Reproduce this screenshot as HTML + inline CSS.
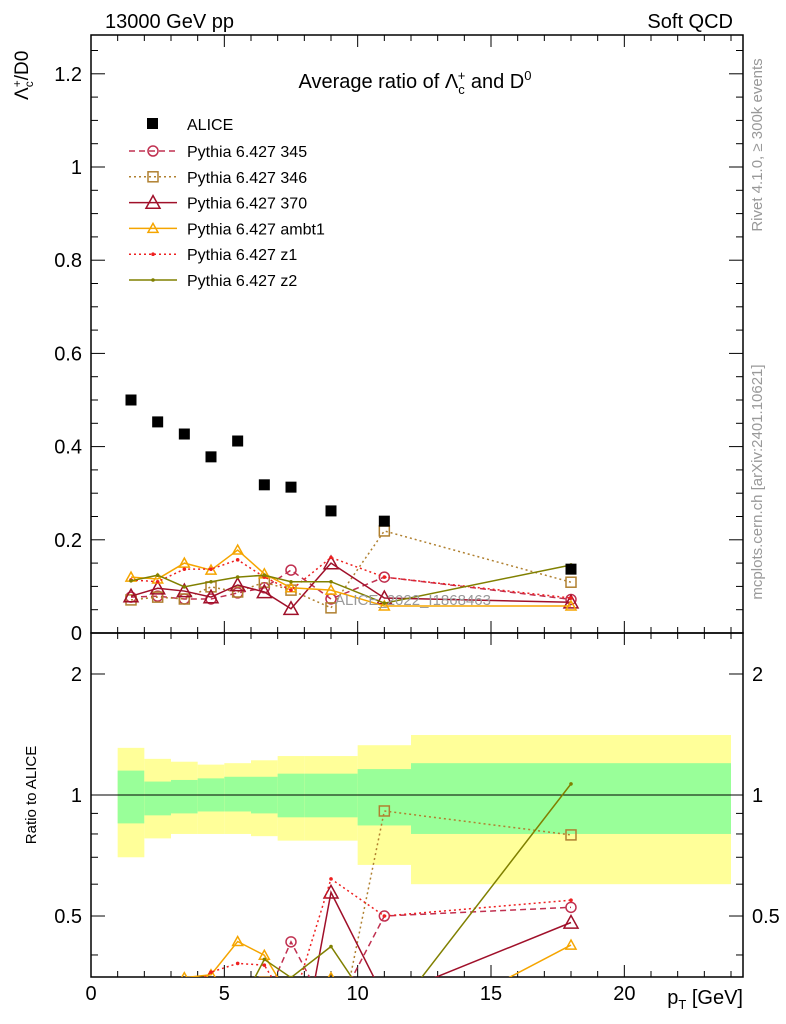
<!DOCTYPE html>
<html><head><meta charset="utf-8"><style>
html,body{margin:0;background:#fff;width:786px;height:1024px;overflow:hidden}
svg{display:block;font-family:"Liberation Sans",sans-serif}
</style></head><body>
<svg id="c" width="786" height="1024" xmlns="http://www.w3.org/2000/svg">
<rect x="0" y="0" width="786" height="1024" fill="#fff"/>
<g id="bands"></g>
<g id="grid"></g>
<g id="marks"></g>
<text x="105" y="28" font-size="20">13000 GeV pp</text>
<text x="733" y="28" font-size="20" text-anchor="end">Soft QCD</text>
<text x="415" y="88" font-size="20" text-anchor="middle">Average ratio of Λ<tspan font-size="13" dy="6">c</tspan><tspan font-size="13" dy="-14" dx="-7">+</tspan><tspan dy="8"> and D</tspan><tspan font-size="13" dy="-8">0</tspan></text>
<text transform="translate(28,100) rotate(-90)" font-size="19">Λ<tspan font-size="12" dy="5">c</tspan><tspan font-size="12" dy="-12" dx="-6">+</tspan><tspan dy="7">/D0</tspan></text>
<text transform="translate(36,795) rotate(-90)" font-size="15" text-anchor="middle">Ratio to ALICE</text>
<text x="743" y="1004" font-size="20" text-anchor="end">p<tspan font-size="13" dy="5">T</tspan><tspan dy="-5"> [GeV]</tspan></text>
<text transform="translate(762,145) rotate(-90)" font-size="15" fill="#999" text-anchor="middle">Rivet 4.1.0, ≥ 300k events</text>
<text transform="translate(762,482) rotate(-90)" font-size="15" fill="#999" text-anchor="middle">mcplots.cern.ch [arXiv:2401.10621]</text>
<text x="335" y="605" font-size="15" fill="#999">ALICE_2022_I1868463</text>
<g id="legend"></g>
</svg>
<script>
const xs=[1.5,2.5,3.5,4.5,5.5,6.5,7.5,9,11,18];
const alice=[0.50,0.453,0.427,0.378,0.412,0.318,0.313,0.262,0.240,0.137];
const s345=[0.077,0.079,0.073,0.073,0.086,0.097,0.135,0.073,0.12,0.072];
const s346=[0.071,0.077,0.073,0.099,0.088,0.109,0.092,0.054,0.219,0.109];
const s370=[0.079,0.096,0.09,0.077,0.103,0.088,0.052,0.15,0.075,0.066];
const sambt1=[0.12,0.116,0.15,0.135,0.178,0.127,0.097,0.092,0.058,0.058];
const sz1=[0.114,0.11,0.137,0.137,0.157,0.12,0.092,0.162,0.12,0.075];
const sz2=[0.112,0.124,0.099,0.11,0.12,0.124,0.11,0.11,0.064,0.146];
const binEdges=[1,2,3,4,5,6,7,8,10,12,24];
const yelHi=[1.31,1.23,1.21,1.19,1.20,1.22,1.25,1.25,1.33,1.41];
const yelLo=[0.70,0.78,0.80,0.80,0.80,0.79,0.77,0.77,0.67,0.60];
const grnHi=[1.15,1.08,1.09,1.10,1.11,1.11,1.13,1.13,1.16,1.20];
const grnLo=[0.85,0.89,0.90,0.91,0.91,0.90,0.88,0.88,0.84,0.80];
const xTicks=[0,5,10,15,20];
const yTicks=[0,0.2,0.4,0.6,0.8,1,1.2];
const yTickLabels=["0","0.2","0.4","0.6","0.8","1","1.2"];
const rTicks=[0.5,1,2];
const rTickLabels=["0.5","1","2"];

const NS="http://www.w3.org/2000/svg";
const L=91,R=743,T=35,MB=633,RB=977;
const X=v=>L+v*(R-L)/24.45;
const Y=v=>MB-v*466;
const RY=v=>795-Math.log10(v)*402;
function mk(tag,a,parent){const e=document.createElementNS(NS,tag);for(const k in a)e.setAttribute(k,a[k]);(parent||document.getElementById('marks')).appendChild(e);return e;}

const bg=document.getElementById('bands');
for(let i=0;i<yelHi.length;i++){
 const x0=X(binEdges[i]),x1=X(binEdges[i+1]);
 const y1=mk('rect',{x:x0,y:RY(yelHi[i]),width:x1-x0,height:RY(yelLo[i])-RY(yelHi[i]),fill:'#ffff99'},bg);
 
 
 const g1=mk('rect',{x:x0,y:RY(grnHi[i]),width:x1-x0,height:RY(grnLo[i])-RY(grnHi[i]),fill:'#99ff99'},bg);
 
 
}
const gr=document.getElementById('grid');
mk('line',{x1:L,x2:R,y1:795,y2:795,stroke:'#000','stroke-width':1},gr);

mk('rect',{x:L,y:T,width:R-L,height:MB-T,fill:'none',stroke:'#000','stroke-width':1.5},gr);
mk('rect',{x:L,y:MB,width:R-L,height:RB-MB,fill:'none',stroke:'#000','stroke-width':1.5},gr);
for(let v=0;v<=24;v++){
 const big=v%5==0, x=X(v);
 [[MB,-1],[RB,-1],[T,1],[MB,1]].forEach(([y,d])=>mk('line',{x1:x,x2:x,y1:y,y2:y+d*(big?12:6),stroke:'#000','stroke-width':1},gr));
}
xTicks.forEach(v=>{const t=mk('text',{x:X(v),y:1000,'font-size':20,'text-anchor':'middle'},gr);t.textContent=v;

});
for(let k=0;k<=25;k++){const v=k*0.05,y=Y(v);if(y<T)continue;const big=k%4==0;
 mk('line',{x1:L,x2:L+(big?14:7),y1:y,y2:y,stroke:'#000'},gr);
 mk('line',{x1:R,x2:R-(big?14:7),y1:y,y2:y,stroke:'#000'},gr);}
yTicks.forEach((v,i)=>{const t=mk('text',{x:82,y:Y(v)+7,'font-size':20,'text-anchor':'end'},gr);t.textContent=yTickLabels[i];

});
[0.4,0.5,0.6,0.7,0.8,0.9,1,2].forEach(v=>{const y=RY(v),big=(v==0.5||v==1||v==2);
 mk('line',{x1:L,x2:L+(big?14:7),y1:y,y2:y,stroke:'#000'},gr);
 mk('line',{x1:R,x2:R-(big?14:7),y1:y,y2:y,stroke:'#000'},gr);});
rTicks.forEach((v,i)=>{[[82,'end'],[752,'start']].forEach(([x,a])=>{const t=mk('text',{x:x,y:RY(v)+7,'font-size':20,'text-anchor':a},gr);t.textContent=rTickLabels[i];

});});

const defs=mk('defs',{},document.getElementById('c'));
const cp1=mk('clipPath',{id:'cm'},defs);mk('rect',{x:L,y:T,width:R-L,height:MB-T},cp1);
const cp2=mk('clipPath',{id:'cr'},defs);mk('rect',{x:L,y:MB,width:R-L,height:RB-MB},cp2);

const series=[
 {n:'pythia-345',d:s345,c:'#c03050',dash:'6,4',m:'circle',lab:'Pythia 6.427 345'},
 {n:'pythia-346',d:s346,c:'#b08030',dash:'2,3',m:'square',lab:'Pythia 6.427 346'},
 {n:'pythia-370',d:s370,c:'#a0102a',dash:'',m:'tri',lab:'Pythia 6.427 370',big:1},
 {n:'pythia-ambt1',d:sambt1,c:'#f5a500',dash:'',m:'tri',lab:'Pythia 6.427 ambt1'},
 {n:'pythia-z1',d:sz1,c:'#ee2020',dash:'2,3',m:'dot',lab:'Pythia 6.427 z1'},
 {n:'pythia-z2',d:sz2,c:'#808000',dash:'',m:'dot',lab:'Pythia 6.427 z2'}];
function marker(g,m,x,y,c,big){
 if(m=='circle')return mk('circle',{cx:x,cy:y,r:5,fill:'none',stroke:c,'stroke-width':1.5},g);
 if(m=='square')return mk('rect',{x:x-5,y:y-5,width:10,height:10,fill:'none',stroke:c,'stroke-width':1.5},g);
 if(m=='tri'){const s=big?7:5;return mk('polygon',{points:`${x},${y-s} ${x-s},${y+s*0.8} ${x+s},${y+s*0.8}`,fill:'none',stroke:c,'stroke-width':1.5},g);}
 return mk('circle',{cx:x,cy:y,r:1.8,fill:c},g);
}
const gm=mk('g',{'clip-path':'url(#cm)'});
const gr2=mk('g',{'clip-path':'url(#cr)'});
series.forEach(s=>{
 const g=mk('g',{},gm);
 
 
 mk('polyline',{points:xs.map((x,i)=>X(x)+','+Y(s.d[i])).join(' '),fill:'none',stroke:s.c,'stroke-width':1.5,'stroke-dasharray':s.dash},g);
 xs.forEach((x,i)=>marker(g,s.m,X(x),Y(s.d[i]),s.c,s.big));
 const g2=mk('g',{},gr2);
 
 
 mk('polyline',{points:xs.map((x,i)=>X(x)+','+RY(s.d[i]/alice[i])).join(' '),fill:'none',stroke:s.c,'stroke-width':1.5,'stroke-dasharray':s.dash},g2);
 xs.forEach((x,i)=>marker(g2,s.m,X(x),RY(s.d[i]/alice[i]),s.c,s.big));
});
const ga=mk('g',{},gm);


xs.forEach((x,i)=>mk('rect',{x:X(x)-5.5,y:Y(alice[i])-5.5,width:11,height:11,fill:'#000'},ga));

const lg=document.getElementById('legend');
mk('rect',{x:147,y:118,width:11,height:11,fill:'#000'},lg);
let t=mk('text',{x:187,y:130,'font-size':16},lg);t.textContent='ALICE';
series.forEach((s,i)=>{const y=151+i*25.8;
 mk('line',{x1:129,x2:177,y1:y,y2:y,stroke:s.c,'stroke-width':1.5,'stroke-dasharray':s.dash},lg);
 marker(lg,s.m,153,y,s.c,s.big);
 const tt=mk('text',{x:187,y:y+6,'font-size':16},lg);tt.textContent=s.lab;
 
 
});
</script>
</body></html>
